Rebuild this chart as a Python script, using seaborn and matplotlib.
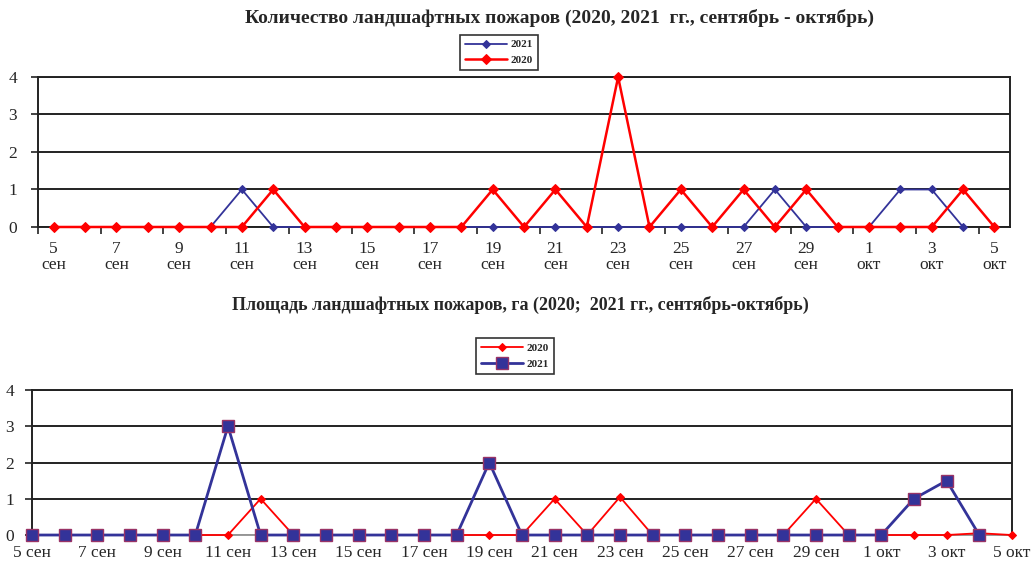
import numpy as np
import pandas as pd
import matplotlib
matplotlib.use("Agg")
import matplotlib.pyplot as plt
import seaborn as sns

# -----------------------------
# Data (5 Sep - 5 Oct)
# -----------------------------
dates = ["5 сен", "6 сен", "7 сен", "8 сен", "9 сен", "10 сен", "11 сен", "12 сен",
         "13 сен", "14 сен", "15 сен", "16 сен", "17 сен", "18 сен", "19 сен", "20 сен",
         "21 сен", "22 сен", "23 сен", "24 сен", "25 сен", "26 сен", "27 сен", "28 сен",
         "29 сен", "30 сен", "1 окт", "2 окт", "3 окт", "4 окт", "5 окт"]

# number of fires
count_2021 = [0, 0, 0, 0, 0, 0, 1, 0, 0, 0, 0, 0, 0, 0, 0, 0,
              0, 0, 0, 0, 0, 0, 0, 1, 0, 0, 0, 1, 1, 0, np.nan]
count_2020 = [0, 0, 0, 0, 0, 0, 0, 1, 0, 0, 0, 0, 0, 0, 1, 0,
              1, 0, 4, 0, 1, 0, 1, 0, 1, 0, 0, 0, 0, 1, 0]

# burnt area, ha
area_2020 = [0, 0, 0, 0, 0, 0, 0, 1, 0, 0, 0, 0, 0, 0, 0, 0,
             1, 0, 1.05, 0, 0, 0, 0, 0, 1, 0, 0, 0, 0, 0.05, 0]
area_2021 = [0, 0, 0, 0, 0, 0, 3, 0, 0, 0, 0, 0, 0, 0, 2, 0,
             0, 0, 0, 0, 0, 0, 0, 0, 0, 0, 0, 1, 1.5, 0, np.nan]

title_top = "Количество ландшафтных пожаров (2020, 2021  гг., сентябрь - октябрь)"
title_bottom = "Площадь ландшафтных пожаров, га (2020;  2021 гг., сентябрь-октябрь)"

df = pd.DataFrame({"pos": range(len(dates)), "date": dates,
                   "count_2021": count_2021, "count_2020": count_2020,
                   "area_2020": area_2020, "area_2021": area_2021})

RED = "#FF0000"
NAVY = "#333399"
TICK_SIZE = 12.5

sns.set_style("white")
plt.rcParams["font.family"] = ["Liberation Serif", "DejaVu Serif"]

fig = plt.figure(figsize=(10.31, 5.62), dpi=100)
ax1 = fig.add_axes([0.0369, 0.5961, 0.9428, 0.2669])
ax2 = fig.add_axes([0.0310, 0.0480, 0.9505, 0.2580])

# -----------------------------
# Top chart: counts
# -----------------------------
sns.lineplot(data=df, x="pos", y="count_2021", ax=ax1, color=NAVY, lw=1.3,
             marker="D", markersize=4, markeredgecolor=NAVY, label="2021",
             clip_on=False, zorder=3)
sns.lineplot(data=df, x="pos", y="count_2020", ax=ax1, color=RED, lw=1.8,
             marker="D", markersize=5, markeredgecolor=RED, label="2020",
             clip_on=False, zorder=4)

ax1.set_xlim(-0.5, len(dates) - 0.5)
ax1.set_ylim(0, 4)
ax1.set_yticks(range(5))
ax1.set_xticks(df["pos"][::2])
ax1.set_xticklabels([d.replace(" ", "\n") for d in dates[::2]], linespacing=1.05)
ax1.set_xticks(np.arange(-0.5, len(dates), 2), minor=True)
ax1.tick_params(axis="x", which="major", length=0, pad=10, labelsize=TICK_SIZE)
ax1.tick_params(axis="x", which="minor", length=5, width=1.2, direction="out",
                color="#222222", bottom=True)
ax1.tick_params(axis="y", length=5, width=1.2, direction="out", color="#222222",
                left=True, labelsize=TICK_SIZE, pad=10)
ax1.set_xlabel("")
ax1.set_ylabel("")
ax1.grid(axis="y", color="#222222", lw=1.4)
ax1.set_axisbelow(True)
for s in ax1.spines.values():
    s.set_color("#222222")
    s.set_linewidth(1.4)
leg1 = ax1.legend(loc="center", bbox_to_anchor=(0.474, 1.163),
                  prop={"size": 8, "weight": "bold"},
                  frameon=True, fancybox=False, edgecolor="black",
                  handlelength=3.8, borderpad=0.45, labelspacing=0.55,
                  handletextpad=0.3)
leg1.get_frame().set_linewidth(1.2)

# -----------------------------
# Bottom chart: area
# -----------------------------
sns.lineplot(data=df, x="pos", y="area_2020", ax=ax2, color=RED, lw=1.3,
             marker="D", markersize=4, markeredgecolor=RED, label="2020",
             clip_on=False, zorder=3)
sns.lineplot(data=df, x="pos", y="area_2021", ax=ax2, color=NAVY, lw=2,
             marker="s", markersize=8, markerfacecolor=NAVY,
             markeredgecolor="#993366", markeredgewidth=1, label="2021",
             clip_on=False, zorder=4)

ax2.set_xlim(0, len(dates) - 1)
ax2.set_ylim(0, 4)
ax2.set_yticks(range(5))
ax2.set_xticks(df["pos"][::2])
ax2.set_xticklabels(dates[::2])
ax2.tick_params(axis="x", length=0, pad=7, labelsize=TICK_SIZE)
ax2.tick_params(axis="y", length=5, width=1.2, direction="out", color="#222222",
                left=True, labelsize=TICK_SIZE, pad=8)
ax2.set_xlabel("")
ax2.set_ylabel("")
ax2.grid(axis="y", color="#222222", lw=1.4)
ax2.set_axisbelow(True)
for s in ax2.spines.values():
    s.set_color("#222222")
    s.set_linewidth(1.4)
ax2.spines["bottom"].set_color("#999999")
leg2 = ax2.legend(loc="center", bbox_to_anchor=(0.493, 1.234),
                  prop={"size": 8, "weight": "bold"},
                  frameon=True, fancybox=False, edgecolor="black",
                  handlelength=3.8, borderpad=0.45, labelspacing=0.55,
                  handletextpad=0.3)
leg2.get_frame().set_linewidth(1.2)

# -----------------------------
# Titles
# -----------------------------
fig.text(0.543, 0.968, title_top, ha="center", va="center",
         fontsize=14, fontweight="bold")
fig.text(0.505, 0.457, title_bottom, ha="center", va="center",
         fontsize=13, fontweight="bold")

fig.savefig("out.png", dpi=100)
